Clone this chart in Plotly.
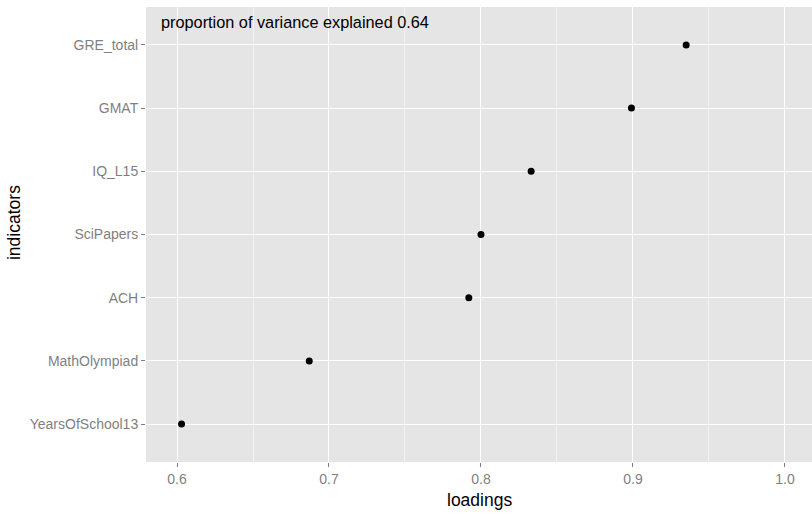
import plotly.graph_objects as go

indicators = ["YearsOfSchool13", "MathOlympiad", "ACH", "SciPapers", "IQ_L15", "GMAT", "GRE_total"]
loadings = [0.603, 0.687, 0.792, 0.800, 0.833, 0.899, 0.935]
x_ticks = [0.6, 0.7, 0.8, 0.9, 1.0]
x_tick_labels = ["0.6", "0.7", "0.8", "0.9", "1.0"]
variance_text = "proportion of variance explained 0.64"

fig = go.Figure()
fig.add_trace(go.Scatter(
    x=loadings, y=indicators, mode="markers",
    marker=dict(color="black", size=7), showlegend=False,
))

font = "Liberation Sans, Arial, sans-serif"
fig.update_layout(
    width=812, height=514,
    margin=dict(l=146, r=0, t=7, b=52),
    paper_bgcolor="white", plot_bgcolor="#E5E5E5",
    font=dict(family=font),
    xaxis=dict(
        range=[0.5796, 1.0178], tickvals=x_ticks, ticktext=x_tick_labels,
        showgrid=True, gridcolor="white", gridwidth=1.3,
        minor=dict(dtick=0.05, tick0=0.55, showgrid=True, gridcolor="#F2F2F2", gridwidth=0.6, ticks=""),
        ticks="outside", ticklen=4, tickcolor="#7F7F7F", tickwidth=1,
        tickfont=dict(size=14, color="#7F7F7F", family=font),
        zeroline=False, showline=False,
    ),
    yaxis=dict(
        categoryorder="array", categoryarray=indicators, range=[-0.6, 6.6],
        showgrid=True, gridcolor="white", gridwidth=1.3,
        ticks="outside", ticklen=4, tickcolor="#7F7F7F", tickwidth=1,
        tickfont=dict(size=14, color="#7F7F7F", family=font),
        zeroline=False, showline=False,
    ),
    annotations=[
        dict(text=variance_text, xref="x", yref="paper", x=0.5884, y=0.966,
             xanchor="left", yanchor="middle", showarrow=False,
             font=dict(size=16.3, color="black", family=font)),
        dict(text="loadings", xref="paper", yref="paper", x=0.5, y=-0.083,
             xanchor="center", yanchor="middle", showarrow=False,
             font=dict(size=17.5, color="black", family=font)),
        dict(text="indicators", xref="paper", yref="paper", x=-0.1985, y=0.527,
             xanchor="center", yanchor="middle", showarrow=False, textangle=-90,
             font=dict(size=17.5, color="black", family=font)),
    ],
)

fig.write_html("out.html")
